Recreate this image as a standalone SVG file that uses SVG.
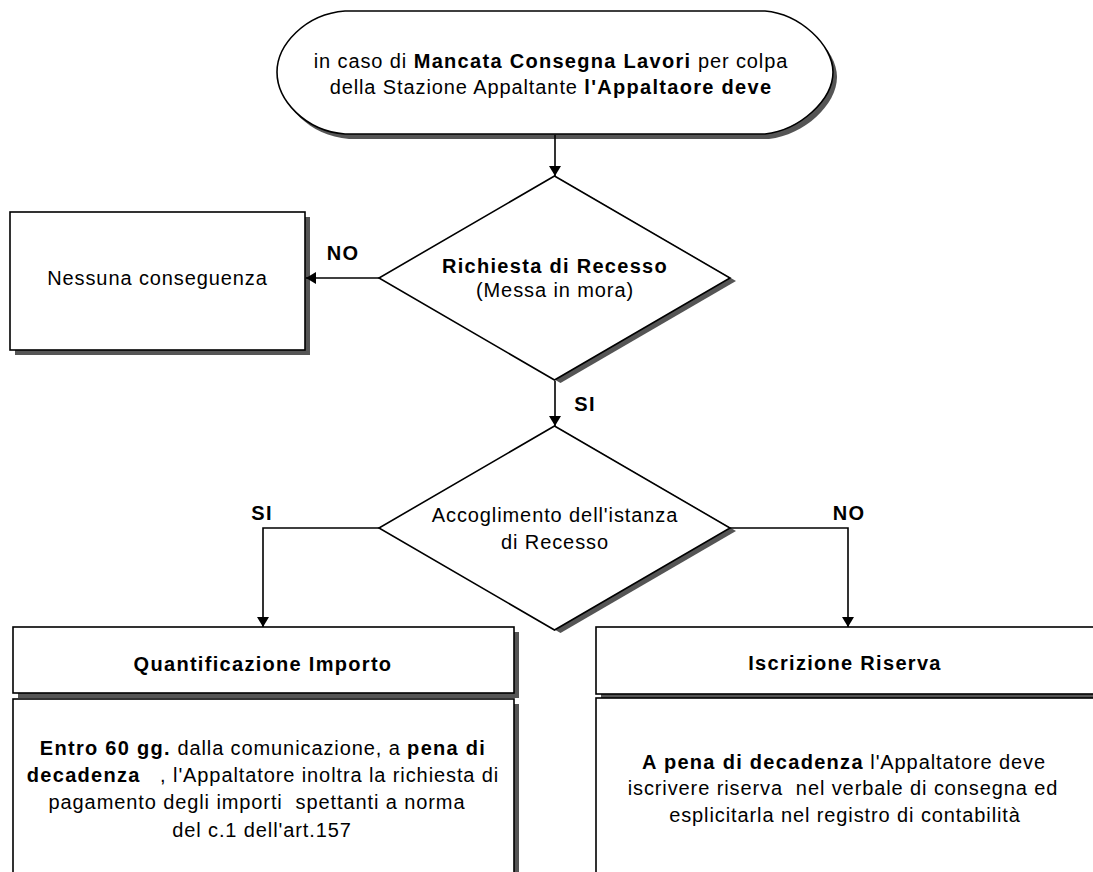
<svg xmlns="http://www.w3.org/2000/svg" width="1093" height="872" viewBox="0 0 1093 872">
<style>
.t { font-family: "Liberation Sans", Arial, sans-serif; font-size: 20px; letter-spacing: 0.9px; fill: #000; text-anchor: middle; }
.b { font-weight: bold; letter-spacing: 1.3px; }
.shape { fill: #fff; stroke: #000; stroke-width: 1.6; }
.shadow { fill: #555; stroke: none; }
.conn { fill: none; stroke: #000; stroke-width: 1.6; }
</style>
<defs>
<marker id="arr" markerUnits="userSpaceOnUse" markerWidth="11" markerHeight="12" refX="10" refY="6" orient="auto">
<path d="M0,0 L10,6 L0,12 z" fill="#000"/>
</marker>
</defs>
<rect width="1093" height="872" fill="#fff"/>

<g id="start">
<path class="shadow" transform="translate(4,5)" d="M345,11 L765,11 C800,14 833,45 833,72 C833,100 800,130 765,134 L345,134 C305,131 277,100 277,72 C277,45 305,14 345,11 Z"/>
<path class="shape" d="M345,11 L765,11 C800,14 833,45 833,72 C833,100 800,130 765,134 L345,134 C305,131 277,100 277,72 C277,45 305,14 345,11 Z"/>
<text class="t" x="551" y="68">in caso di <tspan class="b">Mancata Consegna Lavori</tspan> per colpa</text>
<text class="t" x="551" y="94">della Stazione Appaltante <tspan class="b">l'Appaltaore deve</tspan></text>
</g>

<g id="dec-recesso">
<polygon class="shadow" transform="translate(6,3)" points="554.5,176 730,278 554.5,380 379,278"/>
<polygon class="shape" points="554.5,176 730,278 554.5,380 379,278"/>
<text class="t b" x="555" y="273">Richiesta di Recesso</text>
<text class="t" x="555" y="297">(Messa in mora)</text>
</g>

<g id="nessuna">
<rect class="shadow" x="15" y="217" width="295" height="138"/>
<rect class="shape" x="10" y="212" width="295" height="138"/>
<text class="t" x="157.5" y="285">Nessuna conseguenza</text>
</g>

<g id="dec-accoglimento">
<polygon class="shadow" transform="translate(6,3)" points="554.5,426 730,528 554.5,630 379,528"/>
<polygon class="shape" points="554.5,426 730,528 554.5,630 379,528"/>
<text class="t" x="555" y="522">Accoglimento dell'istanza</text>
<text class="t" x="555" y="549">di Recesso</text>
</g>

<g id="quantificazione-title">
<rect class="shadow" x="18" y="632" width="501" height="66"/>
<rect class="shape" x="13" y="627" width="501" height="66"/>
<text class="t b" x="263" y="671">Quantificazione Importo</text>
</g>

<g id="quantificazione-body">
<rect class="shadow" x="18" y="704" width="501" height="200"/>
<rect class="shape" x="13" y="699" width="501" height="200"/>
<text class="t" x="263" y="755"><tspan class="b">Entro 60 gg.</tspan> dalla comunicazione, a <tspan class="b">pena di</tspan></text>
<text class="t" x="263" y="782" xml:space="preserve"><tspan class="b">decadenza</tspan>   , l'Appaltatore inoltra la richiesta di</text>
<text class="t" x="257" y="809" xml:space="preserve">pagamento degli importi  spettanti a norma</text>
<text class="t" x="262" y="837">del c.1 dell'art.157</text>
</g>

<g id="iscrizione-title">
<rect class="shadow" x="601" y="631" width="520" height="67"/>
<rect class="shape" x="596" y="627" width="520" height="67"/>
<text class="t b" x="845" y="670">Iscrizione Riserva</text>
</g>

<g id="iscrizione-body">
<rect class="shape" x="596" y="698" width="520" height="200"/>
<text class="t" x="844" y="769"><tspan class="b">A pena di decadenza</tspan> l'Appaltatore deve</text>
<text class="t" x="843" y="795" xml:space="preserve">iscrivere riserva  nel verbale di consegna ed</text>
<text class="t" x="845" y="822">esplicitarla nel registro di contabilità</text>
</g>

<g id="connectors">
<path class="conn" marker-end="url(#arr)" d="M555,135 L555,176"/>
<path class="conn" marker-end="url(#arr)" d="M379,278 L306,278"/>
<path class="conn" marker-end="url(#arr)" d="M555,381 L555,426"/>
<path class="conn" marker-end="url(#arr)" d="M379,528 L263,528 L263,627"/>
<path class="conn" marker-end="url(#arr)" d="M730,528 L848,528 L848,627"/>
<text class="t b" x="343" y="260">NO</text>
<text class="t b" x="585" y="411">SI</text>
<text class="t b" x="262" y="520">SI</text>
<text class="t b" x="849" y="520">NO</text>
</g>
</svg>
